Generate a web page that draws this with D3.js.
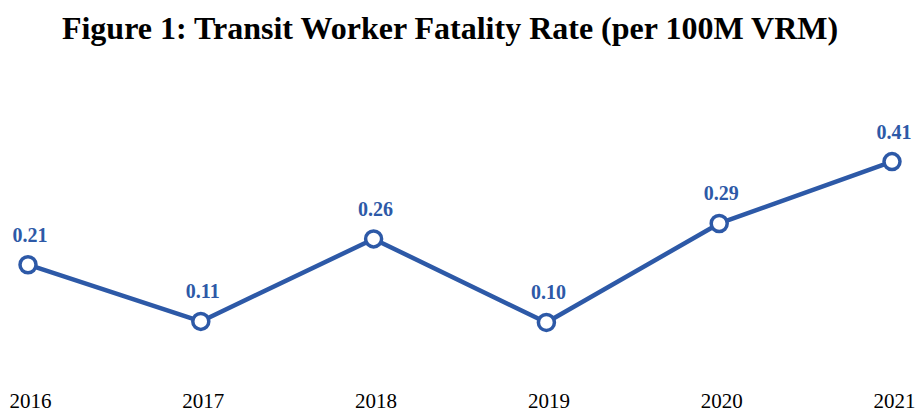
<!DOCTYPE html>
<html>
<head>
<meta charset="utf-8">
<script src="https://cdn.jsdelivr.net/npm/d3@7"></script>
<style>
  body { margin: 0; background: #fff; }
  svg { display: block; }
</style>
</head>
<body>
<div id="wrapper"></div>
<script>
// Data
const years = ["2016", "2017", "2018", "2019", "2020", "2021"];
const rates = [0.21, 0.10, 0.26, 0.098, 0.29, 0.41];
const rateLabels = ["0.21", "0.11", "0.26", "0.10", "0.29", "0.41"];

const titleText = "Figure 1: Transit Worker Fatality Rate (per 100M VRM)";

const dimensions = {
  width: 915,
  height: 412,
  margin: { top: 141, right: 23, bottom: 39, left: 28 },
};
dimensions.boundedWidth =
  dimensions.width - dimensions.margin.left - dimensions.margin.right;
dimensions.boundedHeight =
  dimensions.height - dimensions.margin.top - dimensions.margin.bottom;

const color = "#2d59a7";

const wrapper = d3
  .select("#wrapper")
  .append("svg")
  .attr("width", dimensions.width)
  .attr("height", dimensions.height);

wrapper
  .append("text")
  .attr("x", 450)
  .attr("y", 39)
  .attr("text-anchor", "middle")
  .style("font-family", "'Liberation Serif', 'Times New Roman', serif")
  .style("font-weight", "bold")
  .style("font-size", "32px")
  .text(titleText);

const bounds = wrapper
  .append("g")
  .attr(
    "transform",
    `translate(${dimensions.margin.left},${dimensions.margin.top})`
  );

const xScale = d3
  .scalePoint()
  .domain(years)
  .range([0, dimensions.boundedWidth]);

const yScale = d3
  .scaleLinear()
  .domain([0, 0.45])
  .range([dimensions.boundedHeight, 0]);

// x axis, labels only
const xAxis = bounds
  .append("g")
  .attr("transform", `translate(0,${dimensions.boundedHeight})`)
  .call(d3.axisBottom(xScale).tickSize(0).tickPadding(20));
xAxis.select(".domain").remove();
xAxis
  .selectAll("text")
  .attr("dx", 2)
  .style("font-family", "'Liberation Serif', 'Times New Roman', serif")
  .style("font-size", "21px")
  .attr("fill", "#000");

const points = years.map((y, i) => ({ year: y, value: rates[i], label: rateLabels[i] }));

const lineGenerator = d3
  .line()
  .x((d) => xScale(d.year))
  .y((d) => yScale(d.value));

bounds
  .append("path")
  .datum(points)
  .attr("d", lineGenerator)
  .attr("fill", "none")
  .attr("stroke", color)
  .attr("stroke-width", 4.5)
  .attr("stroke-linejoin", "round");

bounds
  .selectAll(".dot")
  .data(points)
  .join("circle")
  .attr("class", "dot")
  .attr("cx", (d) => xScale(d.year))
  .attr("cy", (d) => yScale(d.value))
  .attr("r", 8)
  .attr("fill", "#fff")
  .attr("stroke", color)
  .attr("stroke-width", 3.5);

bounds
  .selectAll(".valueLabel")
  .data(points)
  .join("text")
  .attr("class", "valueLabel")
  .attr("x", (d) => xScale(d.year) + 2)
  .attr("y", (d) => yScale(d.value) - 23)
  .attr("text-anchor", "middle")
  .attr("fill", color)
  .style("font-family", "'Liberation Serif', 'Times New Roman', serif")
  .style("font-weight", "bold")
  .style("font-size", "20px")
  .text((d) => d.label);
</script>
</body>
</html>
